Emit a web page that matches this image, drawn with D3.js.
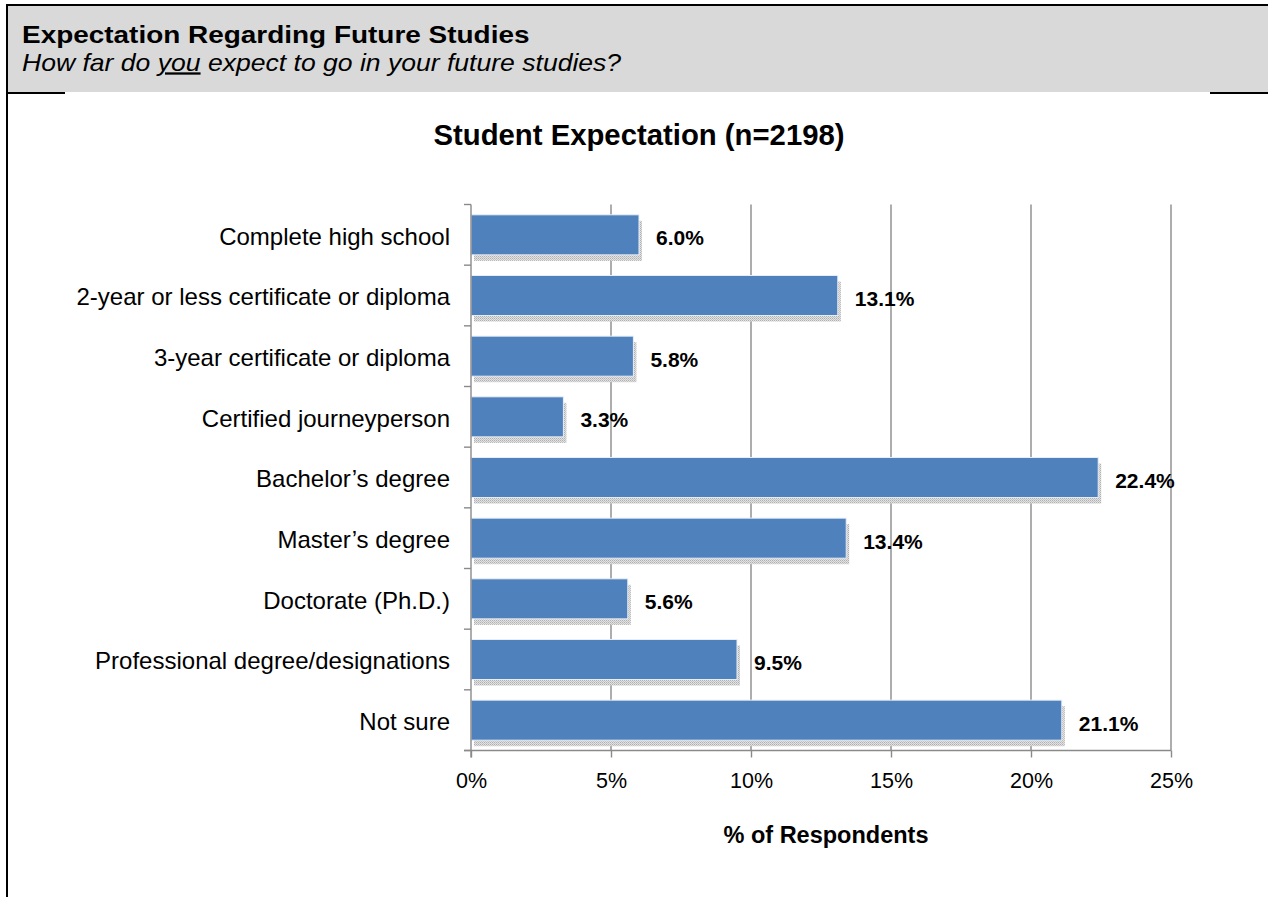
<!DOCTYPE html>
<html>
<head>
<meta charset="utf-8">
<script src="https://cdn.jsdelivr.net/npm/d3@7"></script>
<style>
  html, body { margin: 0; padding: 0; background: #fff; }
  svg { display: block; font-family: Arial, "Liberation Sans", sans-serif; }
</style>
</head>
<body>
<svg id="chart" width="1268" height="897"></svg>
<script>
// Survey responses: share of students for each expected level of study
const categories = [
  "Complete high school",
  "2-year or less certificate or diploma",
  "3-year certificate or diploma",
  "Certified journeyperson",
  "Bachelor\u2019s degree",
  "Master\u2019s degree",
  "Doctorate (Ph.D.)",
  "Professional degree/designations",
  "Not sure"
];
const percents = [6.0, 13.1, 5.8, 3.3, 22.4, 13.4, 5.6, 9.5, 21.1];
const xTicks = [0, 5, 10, 15, 20, 25];

const headerTitle = "Expectation Regarding Future Studies";
const chartTitle = "Student Expectation (n=2198)";
const xAxisTitle = "% of Respondents";

const svg = d3.select("#chart");
const W = 1268;

// ---- header block ----
const defs = svg.append("defs");
const dither = defs.append("pattern")
  .attr("id", "dither").attr("width", 2).attr("height", 2)
  .attr("patternUnits", "userSpaceOnUse");
dither.append("rect").attr("width", 2).attr("height", 2).attr("fill", "#e2e2e2");
dither.append("rect").attr("width", 1).attr("height", 1).attr("fill", "#b0b0b0");
dither.append("rect").attr("x", 1).attr("y", 1).attr("width", 1).attr("height", 1).attr("fill", "#c4c4c4");

svg.append("rect").attr("x", 8).attr("y", 6).attr("width", W - 8).attr("height", 86).attr("fill", "#d9d9d9");
svg.append("line").attr("x1", 6).attr("x2", W).attr("y1", 5).attr("y2", 5)
  .attr("stroke", "#000").attr("stroke-width", 2);
svg.append("line").attr("x1", 7).attr("x2", 7).attr("y1", 4).attr("y2", 897)
  .attr("stroke", "#000").attr("stroke-width", 2);
svg.append("line").attr("x1", 8).attr("x2", 65).attr("y1", 93).attr("y2", 93)
  .attr("stroke", "#000").attr("stroke-width", 2);
svg.append("line").attr("x1", 1210).attr("x2", W).attr("y1", 93).attr("y2", 93)
  .attr("stroke", "#000").attr("stroke-width", 2);

svg.append("text")
  .attr("transform", "translate(22,43) scale(1.215,1)")
  .attr("font-size", 23).attr("font-weight", "bold").attr("fill", "#000")
  .text(headerTitle);

const sub = svg.append("text")
  .attr("transform", "translate(22,70.5) scale(1.155,1)")
  .attr("font-size", 23).attr("font-style", "italic").attr("fill", "#000");
sub.append("tspan").text("How far do ");
sub.append("tspan").attr("text-decoration", "underline").text("you");
sub.append("tspan").text(" expect to go in your future studies?");

// ---- chart ----
const plot = { left: 471, right: 1171, top: 204.5, bottom: 750.5 };

svg.append("text")
  .attr("x", 639).attr("y", 145)
  .attr("text-anchor", "middle")
  .attr("font-size", 29.3).attr("font-weight", "bold")
  .text(chartTitle);

const x = d3.scaleLinear().domain([0, 25]).range([plot.left, plot.right]);
const y = d3.scaleBand().domain(categories)
  .range([plot.top, plot.bottom])
  .paddingInner(0.34).paddingOuter(0.17);

const gridColor = "#8a8a8a";

// vertical gridlines
svg.append("g").selectAll("line")
  .data(xTicks.filter(d => d > 0))
  .join("line")
  .attr("x1", d => x(d)).attr("x2", d => x(d))
  .attr("y1", plot.top).attr("y2", plot.bottom)
  .attr("stroke", gridColor).attr("stroke-width", 1.4);

// bar shadows
const rows = categories.map((c, i) => ({ cat: c, val: percents[i] }));
svg.append("g").selectAll("rect")
  .data(rows)
  .join("rect")
  .attr("x", x(0) + 3)
  .attr("y", d => y(d.cat) + 6)
  .attr("width", d => x(d.val) - x(0))
  .attr("height", y.bandwidth())
  .attr("fill", "url(#dither)");

// bars
svg.append("g").selectAll("rect")
  .data(rows)
  .join("rect")
  .attr("x", x(0))
  .attr("y", d => y(d.cat))
  .attr("width", d => x(d.val) - x(0))
  .attr("height", y.bandwidth())
  .attr("fill", "#4f81bd")
  .attr("stroke", "#e8eef7").attr("stroke-width", 1);

// value labels
svg.append("g").selectAll("text")
  .data(rows)
  .join("text")
  .attr("x", d => x(d.val) + 17)
  .attr("y", d => y(d.cat) + y.bandwidth() / 2 + 3)
  .attr("dy", "0.35em")
  .attr("font-size", 21).attr("font-weight", "bold")
  .text(d => d.val.toFixed(1) + "%");

// bottom axis
const xAxis = svg.append("g")
  .attr("transform", `translate(0,${plot.bottom})`)
  .call(d3.axisBottom(x).tickValues(xTicks).tickSize(7).tickPadding(15)
    .tickFormat(d => d + "%"));
xAxis.select(".domain").remove();
xAxis.selectAll(".tick line").attr("stroke", gridColor).attr("stroke-width", 1.4);
xAxis.selectAll(".tick text").attr("font-size", 21.5).attr("fill", "#000")
  .attr("font-family", "Arial, 'Liberation Sans', sans-serif");
svg.append("line")
  .attr("x1", plot.left - 7).attr("x2", plot.right)
  .attr("y1", plot.bottom).attr("y2", plot.bottom)
  .attr("stroke", gridColor).attr("stroke-width", 1.4);

// left axis: category labels
const yAxis = svg.append("g")
  .attr("transform", `translate(${plot.left},2)`)
  .call(d3.axisLeft(y).tickSize(0).tickPadding(21));
yAxis.select(".domain").remove();
yAxis.selectAll(".tick text").attr("font-size", 24).attr("fill", "#000")
  .attr("font-family", "Arial, 'Liberation Sans', sans-serif");

// left axis line with ticks at category boundaries
const step = y.step();
const bounds = d3.range(categories.length + 1).map(i => plot.top + i * step);
svg.append("line")
  .attr("x1", plot.left).attr("x2", plot.left)
  .attr("y1", plot.top).attr("y2", plot.bottom + 7)
  .attr("stroke", gridColor).attr("stroke-width", 1.4);
svg.append("g").selectAll("line")
  .data(bounds)
  .join("line")
  .attr("x1", plot.left - 7).attr("x2", plot.left)
  .attr("y1", d => d).attr("y2", d => d)
  .attr("stroke", gridColor).attr("stroke-width", 1.4);

// axis title
svg.append("text")
  .attr("x", 826).attr("y", 843)
  .attr("text-anchor", "middle")
  .attr("font-size", 23.5).attr("font-weight", "bold")
  .text(xAxisTitle);
</script>
</body>
</html>
